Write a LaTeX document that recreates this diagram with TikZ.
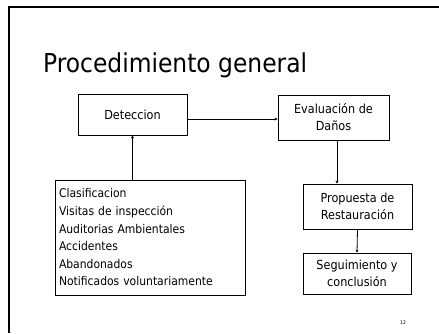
\documentclass[tikz,border=0pt]{standalone}
\usepackage{fontspec}
\setmainfont{DejaVu Sans Condensed}
\usetikzlibrary{arrows.meta}
\begin{document}
\begin{tikzpicture}[x=1pt,y=-1pt,
  box/.style={draw,line width=0.9pt,inner sep=0pt,font=\fontsize{12.5}{17}\selectfont,align=center},
  conn/.style={line width=0.8pt,-{Stealth[length=3pt,width=3pt]}}]
\useasboundingbox (0,0) rectangle (439,333);
\fill[white] (0,0) rectangle (439,333);
\draw[line width=1.2pt] (9,333) -- (9,7) -- (439,7);
\node[anchor=base west,font=\fontsize{26}{30}\selectfont,inner sep=0pt] (title) at (43,72) {Procedimiento general};
\node[box,minimum width=109pt,minimum height=41pt] (det) at (132.5,114.5) {Deteccion};
\node[box,minimum width=111pt,minimum height=45pt] (eva) at (333.5,117.5) {Evaluación de\\Daños};
\node[box,minimum width=109pt,minimum height=45pt] (pro) at (357.5,206.5) {Propuesta de\\Restauración};
\node[box,minimum width=108pt,minimum height=41pt] (seg) at (357,273.5) {Seguimiento y\\conclusión};
\node[box,minimum width=190pt,minimum height=115pt,align=left,text width=182pt,font=\fontsize{12}{17.6}\selectfont] (list) at (150,237.5) {Clasificacion\\Visitas de inspección\\Auditorias Ambientales\\Accidentes\\Abandonados\\Notificados voluntariamente};
\node[font=\fontsize{5}{6}\selectfont,inner sep=0pt] (num) at (403,323) {12};
\coordinate (evab) at (337,140);
\draw[conn] (det.east |- 0,119) -- (eva.west |- 0,119);
\draw[conn] (list.north -| det.south) -- (det.south);
\draw[conn] (evab) -- (evab |- pro.north);
\draw[conn] (pro.south) -- (seg.north);
\end{tikzpicture}
\end{document}
